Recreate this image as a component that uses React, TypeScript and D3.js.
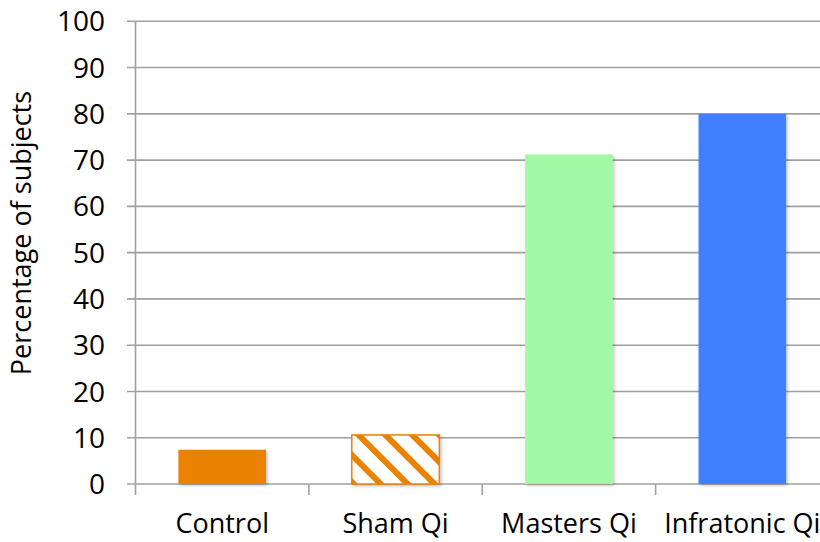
import React from "react";
import * as d3 from "d3";

const categories = ["Control", "Sham Qi", "Masters Qi", "Infratonic Qi"];
const values = [7.4, 10.6, 71.2, 80];
const colors = ["#EA8200", "hatch", "#A3F9A3", "#4180FF"];
const yTicks = [0, 10, 20, 30, 40, 50, 60, 70, 80, 90, 100];
const yLabel = "Percentage of subjects";

export default function App() {
  const W = 820, H = 542;
  const left = 135.5, right = 829, top = 21.3, bottom = 484;
  const x = d3.scaleBand<string>().domain(categories).range([left, right]).paddingInner(0.495).paddingOuter(0.2475);
  const y = d3.scaleLinear().domain([0, 100]).range([bottom, top]);
  const step = (right - left) / categories.length;
  const font = "Open Sans, Carlito, sans-serif";
  const grid = "#A0A0A0";
  return (
    <svg width={W} height={H} style={{ position: "absolute", left: 0, top: 0, background: "#fff" }}>
      <defs>
        <pattern id="hatch" patternUnits="userSpaceOnUse" width="19" height="19" patternTransform="rotate(-45)">
          <rect x="0" y="0" width="19" height="19" fill="#fff" />
          <rect x="0" y="0" width="6" height="19" fill="#EA8200" />
        </pattern>
        <filter id="sh" x="-10%" y="-10%" width="130%" height="130%">
          <feDropShadow dx="1.5" dy="1.5" stdDeviation="1.5" floodColor="#000" floodOpacity="0.25" />
        </filter>
      </defs>
      {yTicks.map((t) => (
        <g key={t}>
          <line x1={127} x2={W} y1={y(t)} y2={y(t)} stroke={grid} strokeWidth={1.6} />
          <text x={105} y={y(t)} dy="0.36em" textAnchor="end" fontFamily={font} fontSize={28} fill="#000">{t}</text>
        </g>
      ))}
      <line x1={left} x2={left} y1={top} y2={495} stroke={grid} strokeWidth={1.6} />
      {categories.map((c, i) => (
        <line key={"t" + i} x1={left + step * (i + 1)} x2={left + step * (i + 1)} y1={bottom} y2={495} stroke={grid} strokeWidth={1.6} />
      ))}
      {categories.map((c, i) => {
        const bx = x(c)!;
        const bw = x.bandwidth();
        const by = y(values[i]);
        const isHatch = colors[i] === "hatch";
        return (
          <g key={c} filter="url(#sh)">
            <rect x={bx} y={by} width={bw} height={bottom - by}
              fill={isHatch ? "url(#hatch)" : colors[i]}
              stroke={isHatch ? "#EA8200" : "none"} strokeWidth={isHatch ? 1.5 : 0} />
          </g>
        );
      })}
      {categories.map((c, i) => (
        <text key={"l" + i} x={x(c)! + x.bandwidth() / 2} y={533} textAnchor="middle" fontFamily={font} fontSize={27} fill="#000">{c}</text>
      ))}
      <text transform={`translate(31,${233}) rotate(-90)`} textAnchor="middle" fontFamily={font} fontSize={27} fill="#000">{yLabel}</text>
    </svg>
  );
}
